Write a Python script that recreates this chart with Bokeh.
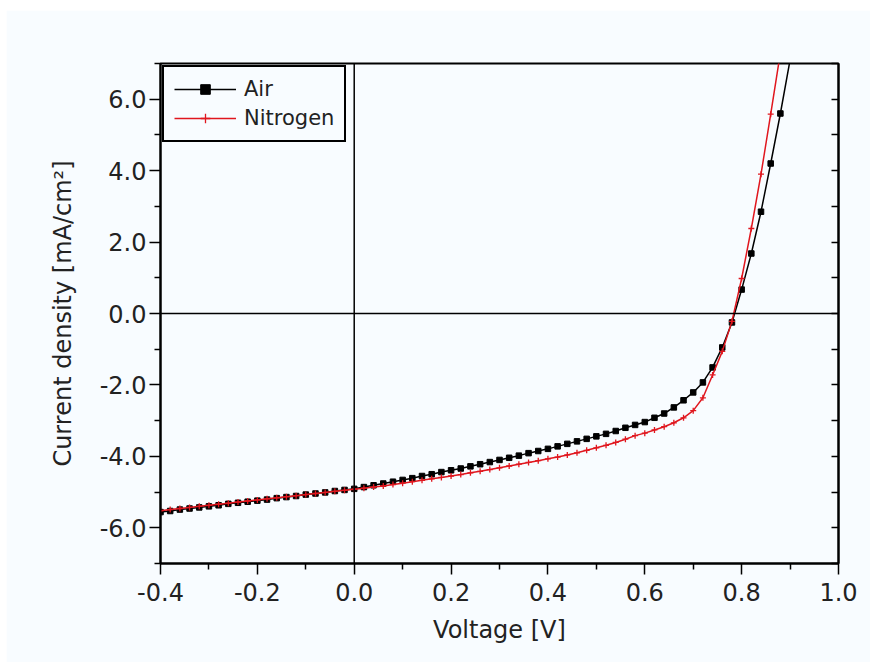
from bokeh.plotting import figure
from bokeh.models import FixedTicker, PrintfTickFormatter, Span, LinearAxis
from bokeh.embed import file_html
from bokeh.resources import INLINE

# J-V curves of the device measured under two atmospheres
voltage = [-0.40, -0.38, -0.36, -0.34, -0.32, -0.30, -0.28, -0.26, -0.24, -0.22,
           -0.20, -0.18, -0.16, -0.14, -0.12, -0.10, -0.08, -0.06, -0.04, -0.02,
           0.00, 0.02, 0.04, 0.06, 0.08, 0.10, 0.12, 0.14, 0.16, 0.18,
           0.20, 0.22, 0.24, 0.26, 0.28, 0.30, 0.32, 0.34, 0.36, 0.38,
           0.40, 0.42, 0.44, 0.46, 0.48, 0.50, 0.52, 0.54, 0.56, 0.58,
           0.60, 0.62, 0.64, 0.66, 0.68, 0.70, 0.72, 0.74, 0.76, 0.78,
           0.80, 0.82, 0.84, 0.86, 0.88, 0.90]

air = [-5.56, -5.53, -5.49, -5.46, -5.43, -5.40, -5.37, -5.33, -5.30, -5.27,
       -5.24, -5.21, -5.17, -5.14, -5.11, -5.07, -5.04, -5.01, -4.97, -4.94,
       -4.91, -4.86, -4.81, -4.76, -4.71, -4.66, -4.61, -4.55, -4.50, -4.44,
       -4.39, -4.34, -4.28, -4.22, -4.16, -4.10, -4.04, -3.98, -3.91, -3.85,
       -3.79, -3.72, -3.65, -3.58, -3.51, -3.44, -3.37, -3.29, -3.20, -3.12,
       -3.04, -2.92, -2.80, -2.63, -2.43, -2.21, -1.93, -1.51, -0.95, -0.25,
       0.67, 1.68, 2.85, 4.20, 5.60, 7.10]

nitrogen = [-5.52, -5.49, -5.46, -5.43, -5.40, -5.37, -5.34, -5.31, -5.28, -5.25,
            -5.22, -5.19, -5.16, -5.13, -5.10, -5.07, -5.04, -5.01, -4.98, -4.95,
            -4.92, -4.89, -4.86, -4.83, -4.79, -4.75, -4.71, -4.67, -4.63, -4.59,
            -4.55, -4.51, -4.46, -4.42, -4.37, -4.32, -4.27, -4.22, -4.17, -4.12,
            -4.07, -4.02, -3.96, -3.90, -3.83, -3.76, -3.69, -3.61, -3.52, -3.42,
            -3.35, -3.26, -3.17, -3.06, -2.92, -2.72, -2.36, -1.72, -1.06, -0.22,
            0.98, 2.38, 3.90, 5.58, 7.30]

x_ticks = [-0.4, -0.2, 0.0, 0.2, 0.4, 0.6, 0.8, 1.0]
x_minor = [-0.3, -0.1, 0.1, 0.3, 0.5, 0.7, 0.9]
y_ticks = [-6, -4, -2, 0, 2, 4, 6]
y_minor = [-7, -5, -3, -1, 1, 3, 5, 7]

BG = "#f8fcff"
FONT = "DejaVu Sans"
TXT = "#222222"

p = figure(width=864, height=652, x_range=(-0.4, 1.0), y_range=(-7, 7),
           output_backend="svg", toolbar_location=None,
           background_fill_color=BG, border_fill_color=BG,
           min_border_left=154, min_border_right=32,
           min_border_top=53, min_border_bottom=99)
p.margin = (10, 0, 0, 6)
p.grid.visible = False
p.outline_line_color = "black"
p.outline_line_width = 2

xt = FixedTicker(ticks=x_ticks, minor_ticks=x_minor)
yt = FixedTicker(ticks=y_ticks, minor_ticks=y_minor)

xa = p.xaxis[0]
xa.ticker = xt
xa.formatter = PrintfTickFormatter(format="%.1f")
xa.axis_label = "Voltage [V]"
ya = p.yaxis[0]
ya.ticker = yt
ya.formatter = PrintfTickFormatter(format="%.1f")
ya.axis_label = "Current density [mA/cm²]"

for ax in (xa, ya):
    ax.axis_line_color = "black"
    ax.axis_line_width = 2
    ax.major_tick_line_color = "black"
    ax.minor_tick_line_color = "black"
    ax.major_tick_line_width = 1.5
    ax.minor_tick_line_width = 1.5
    ax.major_tick_in = 0
    ax.major_tick_out = 11
    ax.minor_tick_in = 0
    ax.minor_tick_out = 6
    ax.major_label_text_font = FONT
    ax.major_label_text_font_size = "24px"
    ax.major_label_text_color = TXT
    ax.axis_label_text_font = FONT
    ax.axis_label_text_font_size = "24px"
    ax.axis_label_text_font_style = "normal"
    ax.axis_label_text_color = TXT
xa.major_label_standoff = 8
xa.axis_label_standoff = 12
ya.major_label_standoff = 3
ya.axis_label_standoff = 20

# inward, unlabelled ticks on the right edge of the frame
rt = FixedTicker(ticks=[], minor_ticks=y_ticks + y_minor)
ra = LinearAxis(ticker=rt, axis_line_color="black", axis_line_width=2,
                minor_tick_in=7, minor_tick_out=0, minor_tick_line_width=1.5,
                minor_tick_line_color="black")
p.add_layout(ra, "right")

# zero reference lines
p.add_layout(Span(location=0, dimension="width", line_color="black", line_width=1.5))
p.add_layout(Span(location=0, dimension="height", line_color="black", line_width=1.5))

p.line(voltage, air, line_color="black", line_width=1.5, legend_label="Air")
p.scatter(voltage, air, marker="square", size=5.5, fill_color="black",
          line_color="black", legend_label="Air")
p.line(voltage[:len(nitrogen)], nitrogen, line_color="#e0161e", line_width=1.5,
       legend_label="Nitrogen")
p.scatter(voltage[:len(nitrogen)], nitrogen, marker="cross", size=6,
          line_color="#e0161e", line_width=1.3, legend_label="Nitrogen")

lg = p.legend[0]
lg.location = "top_left"
lg.margin = 2
lg.padding = 10
lg.spacing = 5
lg.glyph_width = 62
lg.glyph_height = 24
lg.label_height = 24
lg.label_standoff = 8
lg.border_line_color = "black"
lg.border_line_alpha = 1
lg.border_line_width = 2.5
lg.background_fill_color = BG
lg.background_fill_alpha = 1
lg.label_text_font = FONT
lg.label_text_font_size = "21px"
lg.label_text_color = TXT

open("out.html", "w").write(file_html(p, INLINE))
